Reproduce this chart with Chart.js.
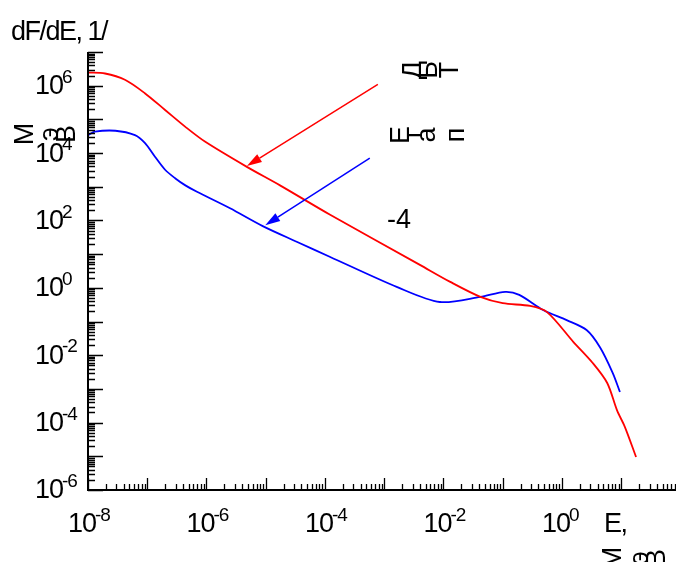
<!DOCTYPE html>
<html>
<head>
<meta charset="utf-8">
<script src="https://cdn.jsdelivr.net/npm/chart.js@4.4.1/dist/chart.umd.min.js"></script>
<style>
  body { margin: 0; background: #fff; }
  #chart-ctn { width: 676px; height: 562px; }
</style>
</head>
<body>
<div id="chart-ctn"><canvas id="spectrumChart" width="676" height="562"></canvas></div>
<script>
//Red curve - energy (MeV) and dF/dE
var redE = [1e-8, 1.94e-8, 4.2e-8, 9.1e-8, 2.0e-7, 4.4e-7, 9.4e-7, 4.8e-6, 1.74e-5, 1.2e-4, 4.0e-3, 1.3e-2, 4.2e-2, 0.1, 0.29, 0.56, 1.55, 3.3, 5.8, 8.5, 11.5, 17.8];
var redF = [2.45e6, 2.3e6, 1.5e6, 6.0e5, 1.9e5, 6.0e4, 2.2e4, 3.9e3, 1.1e3, 1.5e2, 4.8, 1.5, 0.54, 0.35, 0.29, 0.19, 0.025, 5.9e-3, 1.5e-3, 2.3e-4, 7.5e-5, 9.5e-6];

//Blue curve
var blueE = [1e-8, 1.3e-8, 2.9e-8, 6.2e-8, 9.1e-8, 1.35e-7, 2.0e-7, 2.95e-7, 4.4e-7, 6.9e-7, 2.5e-6, 8.9e-6, 3.4e-5, 1.2e-4, 1.66e-3, 8.7e-3, 4.2e-2, 0.11, 0.19, 0.48, 1.2, 2.6, 4.4, 7.2, 9.5];
var blueF = [3.4e4, 4.3e4, 4.6e4, 3.4e4, 2.0e4, 7.8e3, 3.2e3, 1.8e3, 1.1e3, 7.1e2, 2.3e2, 68, 23, 8.4, 1.05, 0.38, 0.54, 0.76, 0.62, 0.22, 0.11, 0.056, 0.017, 2.95e-3, 8.1e-4];

//Tick label exponents
var xTickExp = [-8, -6, -4, -2, 0];
var yTickExp = [-6, -4, -2, 0, 2, 4, 6];

//Arrows [start, tip] in data coords
var redArrow = [[7.8e-4, 1.1e6], [4.8e-6, 4.1e3]];
var blueArrow = [[5.7e-4, 7.1e3], [9.8e-6, 72]];

var FONT = "'Liberation Sans', Arial, sans-serif";

function toPoints(es, fs) {
  return es.map(function(e, i) { return { x: e, y: fs[i] }; });
}

//draws "10" with a raised exponent, left edge at x, "10" centred on y
function drawPow(ctx, exp, x, y) {
  ctx.textAlign = "left";
  ctx.textBaseline = "middle";
  ctx.font = "27px " + FONT;
  ctx.letterSpacing = "-1px";
  ctx.fillText("10", x, y);
  var w = ctx.measureText("10").width;
  ctx.font = "19px " + FONT;
  ctx.fillText(String(exp), w + x - 1, y - 9);
  ctx.letterSpacing = "0px";
}

//each glyph turned on its own, laid out side by side (as in the picture)
function drawTurned(ctx, chars, xs, y) {
  ctx.font = "27px " + FONT;
  ctx.textAlign = "center";
  ctx.textBaseline = "middle";
  chars.forEach(function(ch, i) {
    ctx.save();
    ctx.translate(xs[i], y);
    ctx.rotate(-Math.PI / 2);
    ctx.fillText(ch, 0, 0);
    ctx.restore();
  });
}

function drawArrow(ctx, x0, y0, x1, y1, colour) {
  var ang = Math.atan2(y1 - y0, x1 - x0);
  var len = 15, half = 4.5;
  var bx = x1 - len * Math.cos(ang), by = y1 - len * Math.sin(ang);
  ctx.strokeStyle = colour;
  ctx.fillStyle = colour;
  ctx.lineWidth = 1.5;
  ctx.beginPath();
  ctx.moveTo(x0, y0);
  ctx.lineTo(bx, by);
  ctx.stroke();
  ctx.beginPath();
  ctx.moveTo(x1, y1);
  ctx.lineTo(bx - half * Math.sin(ang), by + half * Math.cos(ang));
  ctx.lineTo(bx + half * Math.sin(ang), by - half * Math.cos(ang));
  ctx.closePath();
  ctx.fill();
}

//Axes, inside ticks, labels and notes
var decorPlugin = {
  id: "decor",
  afterDraw: function(chart) {
    var ctx = chart.ctx;
    var xs = chart.scales.x, ys = chart.scales.y;
    var a = chart.chartArea;
    ctx.save();
    ctx.strokeStyle = "#000";
    ctx.fillStyle = "#000";

    //axis lines
    ctx.lineWidth = 2;
    ctx.beginPath();
    ctx.moveTo(a.left, a.top);
    ctx.lineTo(a.left, a.bottom);
    ctx.lineTo(a.right, a.bottom);
    ctx.stroke();

    //x ticks
    ctx.lineWidth = 1.3;
    ctx.beginPath();
    for (var k = -8; k <= 1; k++) {
      for (var m = 1; m <= 9; m++) {
        var v = m * Math.pow(10, k);
        if (v > xs.max) break;
        var px = Math.round(xs.getPixelForValue(v)) + 0.5;
        ctx.moveTo(px, a.bottom);
        ctx.lineTo(px, a.bottom - (m === 1 ? 12 : 6));
      }
    }
    //y ticks
    for (var k2 = -6; k2 <= 7; k2++) {
      for (var m2 = 1; m2 <= 9; m2++) {
        var v2 = m2 * Math.pow(10, k2);
        if (v2 > ys.max) break;
        var py = Math.round(ys.getPixelForValue(v2)) + 0.5;
        ctx.moveTo(a.left, py);
        ctx.lineTo(a.left + (m2 === 1 ? 15 : 7), py);
      }
    }
    ctx.stroke();

    //tick labels
    xTickExp.forEach(function(e) {
      drawPow(ctx, e, xs.getPixelForValue(Math.pow(10, e)) - 20, 525);
    });
    yTickExp.forEach(function(e) {
      drawPow(ctx, e, 35, ys.getPixelForValue(Math.pow(10, e)) + 1);
    });

    //axis titles
    ctx.font = "27px " + FONT;
    ctx.textAlign = "left";
    ctx.textBaseline = "alphabetic";
    ctx.letterSpacing = "-1.5px";
    ctx.fillText("dF/dE, 1/", 11, 40);
    ctx.fillText("E,", 604, 532);
    ctx.letterSpacing = "0px";
    drawTurned(ctx, ["М", "э", "В"], [26, 51, 68], 134);
    drawTurned(ctx, ["М", "э", "В"], [614, 641, 658], 558);

    //curve notes
    drawTurned(ctx, ["Д", "Ь", "Т"], [414, 430, 451], 70);
    drawTurned(ctx, ["Е", "т", "а", "п"], [402, 415, 428, 457], 135);
    ctx.textAlign = "left";
    ctx.textBaseline = "alphabetic";
    ctx.fillText("-4", 387, 228);

    //arrows
    drawArrow(ctx, xs.getPixelForValue(redArrow[0][0]), ys.getPixelForValue(redArrow[0][1]),
      xs.getPixelForValue(redArrow[1][0]), ys.getPixelForValue(redArrow[1][1]), "#ff0000");
    drawArrow(ctx, xs.getPixelForValue(blueArrow[0][0]), ys.getPixelForValue(blueArrow[0][1]),
      xs.getPixelForValue(blueArrow[1][0]), ys.getPixelForValue(blueArrow[1][1]), "#0000ff");
    ctx.restore();
  }
};

var ctx = document.getElementById("spectrumChart").getContext("2d");
var chart = new Chart(ctx, {
  type: "line",
  data: {
    datasets: [
      {
        data: toPoints(redE, redF),
        borderColor: "#ff0000",
        borderWidth: 1.8,
        pointRadius: 0,
        tension: 0.3,
        fill: false,
      },
      {
        data: toPoints(blueE, blueF),
        borderColor: "#0000ff",
        borderWidth: 1.8,
        pointRadius: 0,
        tension: 0.3,
        fill: false,
      },
    ],
  },
  options: {
    responsive: false,
    animation: false,
    layout: { padding: { left: 88, top: 52, right: 0, bottom: 72 } },
    plugins: { legend: { display: false }, tooltip: { enabled: false } },
    scales: {
      x: { type: "logarithmic", min: 1e-8, max: 84, display: false },
      y: { type: "logarithmic", min: 1e-6, max: 1e7, display: false },
    },
  },
  plugins: [decorPlugin],
});
</script>
</body>
</html>
